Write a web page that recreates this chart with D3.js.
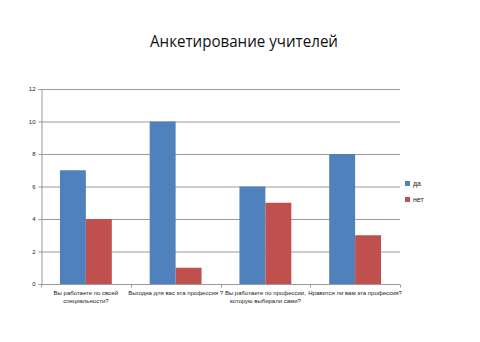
<!DOCTYPE html>
<html>
<head>
<meta charset="utf-8">
<script src="https://cdn.jsdelivr.net/npm/d3@7"></script>
<style>
  html, body { margin: 0; padding: 0; background: #fff; }
  svg { display: block; }
</style>
</head>
<body>
<svg id="chart" width="480" height="342"></svg>
<script>
// Survey answers per question
const questions = [
  ["Вы работаете по своей", "специальности?"],
  ["Выгодна для вас эта профессия ?"],
  ["Вы работаете по  профессии,", "которую  выбирали сами?"],
  ["Нравится  ли вам эта профессия?"]
];
const seriesNames = ["да", "нет"];
const yesValues = [7, 10, 6, 8];
const noValues = [4, 1, 5, 3];
const yTicks = [0, 2, 4, 6, 8, 10, 12];
const colors = ["#4F81BD", "#C0504D"];

const svg = d3.select("#chart");
const font = "'Liberation Sans', Arial, sans-serif";

const plot = { left: 41, right: 400, top: 89, bottom: 284 };

const x = d3.scaleBand()
  .domain(d3.range(questions.length))
  .range([plot.left, plot.right])
  .paddingInner(0).paddingOuter(0);

const xInner = d3.scaleBand()
  .domain(seriesNames)
  .range([0, x.bandwidth()])
  .paddingInner(0)
  .paddingOuter(0.73);

const y = d3.scaleLinear().domain([0, 12]).range([plot.bottom, plot.top]);

// Title
svg.append("text")
  .attr("x", 244).attr("y", 47)
  .attr("text-anchor", "middle")
  .attr("font-family", "'Open Sans', sans-serif")
  .attr("font-size", 16.5)
  .attr("textLength", 188)
  .attr("lengthAdjust", "spacingAndGlyphs")
  .attr("fill", "#111")
  .text("Анкетирование учителей");

// Horizontal grid
svg.append("g")
  .selectAll("line")
  .data(yTicks.slice(1))
  .join("line")
  .attr("x1", plot.left).attr("x2", plot.right)
  .attr("y1", d => y(d) + 0.5).attr("y2", d => y(d) + 0.5)
  .attr("stroke", "#9a9a9a").attr("stroke-width", 1);

// Y axis
const yAxis = svg.append("g")
  .attr("transform", `translate(${plot.left + 0.5},0)`)
  .call(d3.axisLeft(y).tickValues(yTicks).tickSize(3).tickPadding(3));
yAxis.select(".domain").attr("stroke", "#9a9a9a");
yAxis.selectAll(".tick line").attr("stroke", "#9a9a9a");
yAxis.selectAll(".tick text")
  .attr("font-family", font).attr("font-size", 6).attr("fill", "#222");

// Bars
const series = [yesValues, noValues];
const groups = svg.append("g").selectAll("g")
  .data(d3.range(questions.length))
  .join("g")
  .attr("transform", i => `translate(${x(i)},0)`);

groups.selectAll("rect")
  .data(i => seriesNames.map((s, k) => ({ s, k, v: series[k][i] })))
  .join("rect")
  .attr("x", d => xInner(d.s))
  .attr("width", xInner.bandwidth())
  .attr("y", d => y(d.v))
  .attr("height", d => y(0) - y(d.v))
  .attr("fill", d => colors[d.k]);

// X axis
const xAxis = svg.append("g")
  .attr("transform", `translate(0,${plot.bottom + 0.5})`);
xAxis.append("line")
  .attr("x1", plot.left).attr("x2", plot.right)
  .attr("stroke", "#9a9a9a");
xAxis.selectAll("line.tk")
  .data(d3.range(questions.length + 1))
  .join("line")
  .attr("class", "tk")
  .attr("x1", i => Math.round(plot.left + i * x.bandwidth()) + 0.5)
  .attr("x2", i => Math.round(plot.left + i * x.bandwidth()) + 0.5)
  .attr("y1", 0).attr("y2", 3)
  .attr("stroke", "#9a9a9a");

// Category labels
const labels = svg.append("g").selectAll("text")
  .data(questions)
  .join("text")
  .attr("x", (d, i) => x(i) + x.bandwidth() / 2)
  .attr("y", 295)
  .attr("text-anchor", "middle")
  .attr("font-family", font)
  .attr("font-size", 6)
  .attr("fill", "#222");
labels.selectAll("tspan")
  .data(d => d)
  .join("tspan")
  .attr("x", function () { return d3.select(this.parentNode).attr("x"); })
  .attr("dy", (d, j) => j === 0 ? 0 : 8)
  .text(d => d);

// Legend
const legend = svg.append("g").selectAll("g")
  .data(seriesNames)
  .join("g")
  .attr("transform", (d, i) => `translate(405,${181 + i * 16})`);
legend.append("rect")
  .attr("width", 5).attr("height", 5)
  .attr("fill", (d, i) => colors[i]);
legend.append("text")
  .attr("x", 8).attr("y", 5)
  .attr("font-family", font).attr("font-size", 7)
  .attr("fill", "#222")
  .text(d => d);
</script>
</body>
</html>
